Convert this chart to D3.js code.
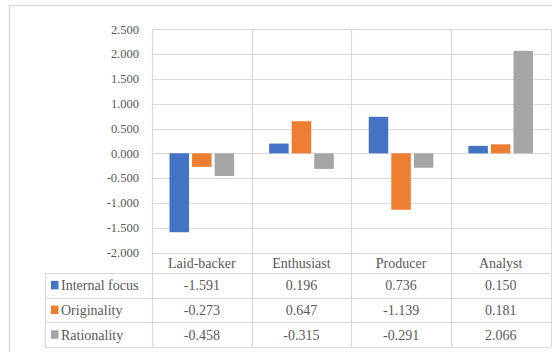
<!DOCTYPE html>
<html>
<head>
<meta charset="utf-8">
<script src="https://cdn.jsdelivr.net/npm/d3@7/dist/d3.min.js"></script>
<style>
  html, body { margin: 0; padding: 0; background: #fff; }
  svg { display: block; }
</style>
</head>
<body>
<svg id="chart" width="552" height="352"></svg>
<script>
// Cluster profiles: mean factor scores per cluster
const categories = ["Laid-backer", "Enthusiast", "Producer", "Analyst"];
const seriesNames = ["Internal focus", "Originality", "Rationality"];
const internalFocus = [-1.591, 0.196, 0.736, 0.150];
const originality = [-0.273, 0.647, -1.139, 0.181];
const rationality = [-0.458, -0.315, -0.291, 2.066];
const yTicks = [2.5, 2.0, 1.5, 1.0, 0.5, 0.0, -0.5, -1.0, -1.5, -2.0];
const colors = ["#4472C4", "#ED7D31", "#A5A5A5"];

const seriesValues = [internalFocus, originality, rationality];

const FONT = "'Liberation Serif', Tinos, 'DejaVu Serif', 'Noto Serif', serif";
const textColor = "#595959";

const svg = d3.select("#chart")
  .attr("font-family", FONT);
const gridColor = "#d9d9d9";

// layout
const plot = { left: 152, right: 550.5, top: 29.3, bottom: 252.5 };
const tableLeft = 45;
const rowH = 24.7;
const headerBottom = 273;
const rowTops = [headerBottom, headerBottom + rowH, headerBottom + 2 * rowH];
const tableBottom = headerBottom + 3 * rowH;

// outer frame
svg.append("rect")
  .attr("x", 9.5).attr("y", 5.5)
  .attr("width", 560).attr("height", 360)
  .attr("fill", "none").attr("stroke", gridColor).attr("stroke-width", 1.5);

const x = d3.scaleBand().domain(categories).range([plot.left, plot.right]).padding(0);
const groupPad = 17.5;
const xInner = d3.scaleBand().domain(seriesNames)
  .range([groupPad, x.bandwidth() - groupPad]).paddingInner(0.136).paddingOuter(0);
const y = d3.scaleLinear().domain([-2, 2.5]).range([plot.bottom, plot.top]);

// three decimals with a plain hyphen for negatives
const locale = d3.formatLocale({ decimal: ".", thousands: ",", grouping: [3], currency: ["", ""], minus: "-" });
const fmt = locale.format(".3f");

// horizontal gridlines
svg.append("g").selectAll("line").data(yTicks).join("line")
  .attr("x1", plot.left).attr("x2", plot.right)
  .attr("y1", d => Math.round(y(d)) + 0.5).attr("y2", d => Math.round(y(d)) + 0.5)
  .attr("stroke", gridColor).attr("stroke-width", 1.2);

// y tick labels
svg.append("g").selectAll("text").data(yTicks).join("text")
  .attr("x", 139).attr("y", d => y(d))
  .attr("dy", "0.35em")
  .attr("text-anchor", "end")
  .attr("font-size", 12.5)
  .attr("fill", textColor)
  .text(d => fmt(d));

// vertical lines: plot edges and category separators, running through the table
const vx = categories.map(c => x(c)).concat([plot.right]);
svg.append("g").selectAll("line").data(vx).join("line")
  .attr("x1", d => Math.round(d) + 0.5).attr("x2", d => Math.round(d) + 0.5)
  .attr("y1", plot.top).attr("y2", tableBottom)
  .attr("stroke", gridColor).attr("stroke-width", 1.2);

// table row lines
svg.append("g").selectAll("line").data([headerBottom, rowTops[1], rowTops[2], tableBottom]).join("line")
  .attr("x1", tableLeft).attr("x2", plot.right)
  .attr("y1", d => Math.round(d) + 0.5).attr("y2", d => Math.round(d) + 0.5)
  .attr("stroke", gridColor).attr("stroke-width", 1.2);
svg.append("line")
  .attr("x1", tableLeft + 0.5).attr("x2", tableLeft + 0.5)
  .attr("y1", headerBottom).attr("y2", tableBottom)
  .attr("stroke", gridColor).attr("stroke-width", 1.2);

// bars
const groups = svg.append("g").selectAll("g").data(categories).join("g")
  .attr("transform", c => `translate(${x(c)},0)`);
groups.selectAll("rect")
  .data((c, ci) => seriesNames.map((s, si) => ({ s, si, v: seriesValues[si][ci] })))
  .join("rect")
  .attr("x", d => xInner(d.s))
  .attr("width", xInner.bandwidth())
  .attr("y", d => y(Math.max(0, d.v)))
  .attr("height", d => Math.abs(y(d.v) - y(0)))
  .attr("fill", d => colors[d.si]);

// category header row
svg.append("g").selectAll("text").data(categories).join("text")
  .attr("x", c => x(c) + x.bandwidth() / 2)
  .attr("y", (plot.bottom + headerBottom) / 2)
  .attr("dy", "0.35em")
  .attr("text-anchor", "middle")
  .attr("font-size", 14)
  .attr("fill", textColor)
  .text(c => c);

// legend keys and series names
const rows = svg.append("g").selectAll("g").data(seriesNames).join("g")
  .attr("transform", (s, i) => `translate(0,${rowTops[i] + rowH / 2})`);
rows.append("rect")
  .attr("x", 51).attr("y", -4.5).attr("width", 7.5).attr("height", 8.5)
  .attr("fill", (s, i) => colors[i]);
rows.append("text")
  .attr("x", 61).attr("dy", "0.35em")
  .attr("font-size", 14)
  .attr("fill", textColor)
  .text(s => s);

// value cells
rows.selectAll("text.val")
  .data((s, i) => categories.map((c, ci) => ({ c, v: seriesValues[i][ci] })))
  .join("text")
  .attr("class", "val")
  .attr("x", d => x(d.c) + x.bandwidth() / 2)
  .attr("dy", "0.35em")
  .attr("text-anchor", "middle")
  .attr("font-size", 14)
  .attr("fill", textColor)
  .text(d => fmt(d.v));
</script>
</body>
</html>
